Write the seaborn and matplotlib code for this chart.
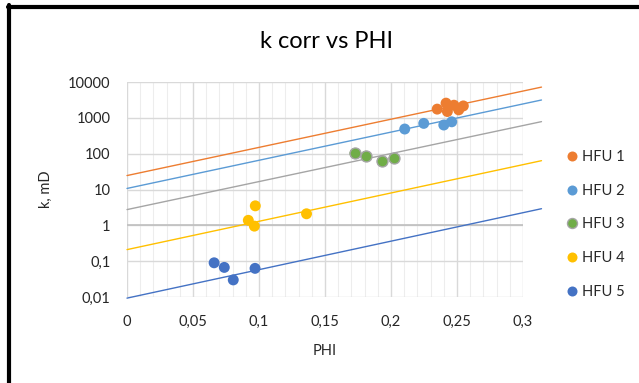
import numpy as np
import pandas as pd
import matplotlib
matplotlib.use("Agg")
import matplotlib.pyplot as plt
import matplotlib.ticker as mticker
from matplotlib.lines import Line2D
import seaborn as sns

# ---- data ----
groups = ["HFU 1", "HFU 2", "HFU 3", "HFU 4", "HFU 5"]
phi_hfu1 = [0.235, 0.2417, 0.2427, 0.2477, 0.2513, 0.2548]
k_hfu1 = [1750, 2570, 1500, 2250, 1670, 2150]
phi_hfu2 = [0.2104, 0.2248, 0.2400, 0.2460]
k_hfu2 = [487, 700, 630, 775]
phi_hfu3 = [0.1727, 0.1810, 0.1934, 0.2023]
k_hfu3 = [102, 85, 61, 74]
phi_hfu4 = [0.0972, 0.0919, 0.0965, 0.1360]
k_hfu4 = [3.5, 1.38, 0.95, 2.1]
phi_hfu5 = [0.0660, 0.0737, 0.0805, 0.0970]
k_hfu5 = [0.09, 0.067, 0.03, 0.063]

# exponential trendlines k = a * exp(b * phi)
trend_a = [24.5, 10.7, 2.75, 0.21, 0.0093]
trend_b = [18.1, 18.1, 18.0, 18.2, 18.3]

marker_colors = ["#ED7D31", "#5B9BD5", "#70AD47", "#FFC000", "#4472C4"]
line_colors = ["#ED7D31", "#5B9BD5", "#A5A5A5", "#FFC000", "#4472C4"]
edge_colors = ["#ED7D31", "#5B9BD5", "#A5A5A5", "#FFC000", "#4472C4"]

x_ticks = [0, 0.05, 0.1, 0.15, 0.2, 0.25, 0.3]
x_labels = ["0", "0,05", "0,1", "0,15", "0,2", "0,25", "0,3"]
y_ticks = [0.01, 0.1, 1, 10, 100, 1000, 10000]
y_labels = ["0,01", "0,1", "1", "10", "100", "1000", "10000"]

phis = [phi_hfu1, phi_hfu2, phi_hfu3, phi_hfu4, phi_hfu5]
ks = [k_hfu1, k_hfu2, k_hfu3, k_hfu4, k_hfu5]
df = pd.DataFrame({
    "PHI": np.concatenate(phis),
    "k": np.concatenate(ks),
    "HFU": np.concatenate([[g] * len(p) for g, p in zip(groups, phis)]),
})

sns.set_theme(style="white")
plt.rcParams["font.family"] = ["Lato", "DejaVu Sans"]
FS = 10.5
TXT = "#262626"
MS = 62

fig = plt.figure(figsize=(6.39, 3.83), dpi=100)
ax = fig.add_axes([127 / 639, 1 - 297 / 383, (523 - 127) / 639, (297 - 82) / 383])
ax.set_yscale("log")
ax.set_xlim(0, 0.3)
ax.set_ylim(0.01, 10000)

# grid
ax.xaxis.set_major_locator(mticker.FixedLocator(x_ticks))
ax.xaxis.set_major_formatter(mticker.FixedFormatter(x_labels))
ax.xaxis.set_minor_locator(mticker.FixedLocator(np.round(np.arange(0.01, 0.30, 0.01), 3)))
ax.yaxis.set_major_locator(mticker.FixedLocator(y_ticks))
ax.yaxis.set_major_formatter(mticker.FixedFormatter(y_labels))
ax.yaxis.set_minor_locator(mticker.NullLocator())
ax.grid(which="major", color="#D9D9D9", linewidth=1.0)
ax.grid(which="minor", axis="x", color="#EDEDED", linewidth=0.8)
ax.set_axisbelow(True)
for s in ax.spines.values():
    s.set_visible(False)
ax.axhline(1, color="#BFBFBF", linewidth=1.2, zorder=1)
ax.tick_params(axis="both", which="both", length=0, labelsize=FS, labelcolor=TXT)
ax.tick_params(axis="x", pad=13)
ax.tick_params(axis="y", pad=12)

# trendlines
xl = np.linspace(0, 0.314, 50)
for a, b, c in zip(trend_a, trend_b, line_colors):
    ax.plot(xl, a * np.exp(b * xl), color=c, linewidth=1.0, clip_on=False, zorder=2)

# points
sns.scatterplot(data=df, x="PHI", y="k", hue="HFU", hue_order=groups,
                palette=marker_colors, s=MS, linewidth=0, ax=ax, zorder=3,
                legend=False)
# gray edge for HFU 3
sub = df[df["HFU"] == "HFU 3"]
ax.scatter(sub["PHI"], sub["k"], s=MS, facecolor=marker_colors[2],
           edgecolor=edge_colors[2], linewidth=1.0, zorder=4)

ax.set_xlabel("PHI", fontsize=FS, color=TXT)
ax.xaxis.set_label_coords(0.5, (297 - 344) / 215)
ax.set_ylabel("k, mD", fontsize=FS, color=TXT)
ax.yaxis.set_label_coords((53 - 127) / 396, 0.5)
fig.text(327 / 639, 1 - 41 / 383, "k corr vs PHI", ha="center", va="center",
         fontsize=17, color="#000000")

handles = [Line2D([0], [0], marker="o", linestyle="", markersize=7.2,
                  markerfacecolor=marker_colors[i], markeredgecolor=edge_colors[i] if i == 2 else marker_colors[i],
                  markeredgewidth=1 if i == 2 else 0)
           for i in range(5)]
fig.legend(handles, groups, loc="upper left", bbox_to_anchor=(563 / 639, 1 - 150 / 383),
           frameon=False, fontsize=FS, labelspacing=1.35, handletextpad=0.1,
           handlelength=1.2, borderaxespad=0, borderpad=0, labelcolor=TXT)

# border (left and top)
fig.add_artist(Line2D([9 / 639, 9 / 639], [0, 1 - 5 / 383], color="black", linewidth=3,
                      transform=fig.transFigure))
fig.add_artist(Line2D([7.5 / 639, 1], [1 - 7 / 383, 1 - 7 / 383], color="black", linewidth=3,
                      transform=fig.transFigure))

fig.savefig("out.png", dpi=100)
